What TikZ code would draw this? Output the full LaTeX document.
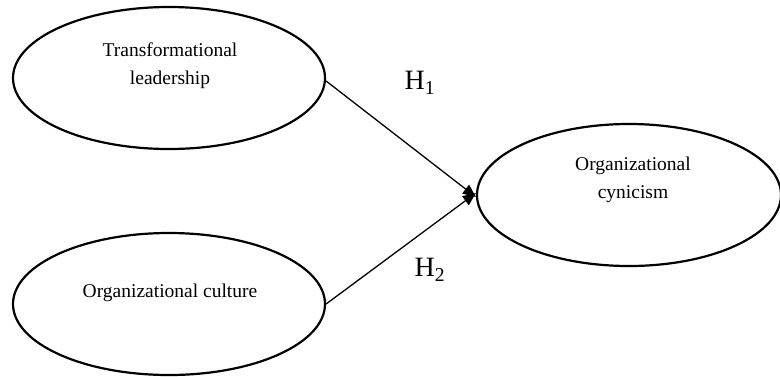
\documentclass[tikz,border=0pt]{standalone}
\usepackage{fontspec}
\setmainfont{Liberation Serif}
\usetikzlibrary{shapes.geometric,arrows.meta}
\begin{document}
\begin{tikzpicture}[x=1pt,y=-1pt,
  oval/.style={ellipse,draw,line width=2.2pt,minimum width=312pt,minimum height=142pt,inner sep=0pt},
  lbl/.style={font=\fontsize{19.5}{28}\selectfont,align=center,inner sep=0pt},
  hyp/.style={font=\fontsize{28}{30}\selectfont,inner sep=0pt},
  arr/.style={line width=1.3pt,-{Triangle[length=13pt,width=11pt]}}]
\useasboundingbox (0,0) rectangle (780,376);
\node[oval] (tl) at (169,78) {};
\node[oval] (oc) at (169,304) {};
\node[oval,minimum width=304pt] (cy) at (629,195) {};
\node[lbl] (tltext) at (170,66) {Transformational\\leadership};
\node[lbl] (octext) at (170,293) {Organizational culture};
\node[lbl] (cytext) at (633,180) {Organizational\\cynicism};
\coordinate (c1) at ([yshift=-2pt]cy.west);
\coordinate (c2) at ([yshift=2pt]cy.west);
\draw[arr] ([yshift=-3pt]tl.east) -- (c1);
\draw[arr] (oc.east) -- (c2);
\node[hyp] (h1) at (420,83) {H\textsubscript{1}};
\node[hyp] (h2) at (430,270) {H\textsubscript{2}};
\end{tikzpicture}
\end{document}
